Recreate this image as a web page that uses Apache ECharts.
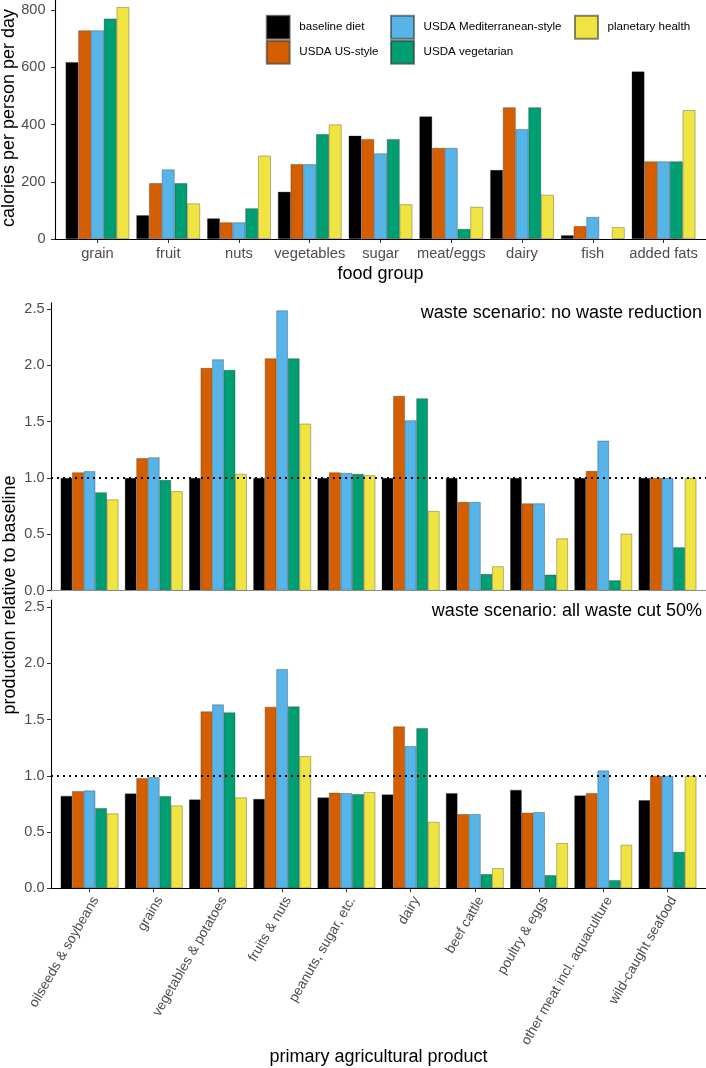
<!DOCTYPE html>
<html><head><meta charset="utf-8">
<script src="https://cdn.jsdelivr.net/npm/echarts@6/dist/echarts.min.js"></script>
<style>html,body{margin:0;padding:0;background:#fff}#c{width:706px;height:1068px}</style>
</head><body><div id="c"></div><script>
// ---------- data ----------
const dietNames = ['baseline diet', 'USDA US-style', 'USDA Mediterranean-style', 'USDA vegetarian', 'planetary health'];
const dietColors = ['#000000', '#D55E00', '#56B4E9', '#009E73', '#F0E442'];

const foodGroups = ['grain', 'fruit', 'nuts', 'vegetables', 'sugar', 'meat/eggs', 'dairy', 'fish', 'added fats'];
const calBaseline = [618, 83, 72, 165, 361, 428, 241, 13, 585];
const calUS       = [729, 195, 58, 261, 349, 318, 460, 45, 271];
const calMed      = [729, 243, 58, 261, 299, 318, 384, 77, 271];
const calVeg      = [770, 195, 107, 366, 349, 35, 460, null, 271];
const calPlanet   = [810, 124, 291, 400, 121, 112, 154, 41, 450];
const calTicks = [0, 200, 400, 600, 800];

const products = ['oilseeds & soybeans', 'grains', 'vegetables & potatoes', 'fruits & nuts', 'peanuts, sugar, etc.',
  'dairy', 'beef cattle', 'poultry & eggs', 'other meat incl. aquaculture', 'wild-caught seafood'];
const noRedBaseline = [1, 1, 1, 1, 1, 1, 1, 1, 1, 1];
const noRedUS       = [1.05, 1.175, 1.976, 2.062, 1.05, 1.728, 0.787, 0.775, 1.062, 1.0];
const noRedMed      = [1.06, 1.183, 2.053, 2.488, 1.045, 1.512, 0.787, 0.775, 1.331, 1.0];
const noRedVeg      = [0.873, 0.982, 1.959, 2.062, 1.036, 1.707, 0.148, 0.142, 0.092, 0.385];
const noRedPlanet   = [0.81, 0.882, 1.036, 1.482, 1.024, 0.707, 0.216, 0.464, 0.506, 1.0];

const cutBaseline = [0.822, 0.843, 0.789, 0.795, 0.807, 0.834, 0.846, 0.875, 0.825, 0.783];
const cutUS       = [0.864, 0.979, 1.573, 1.614, 0.849, 1.439, 0.659, 0.671, 0.846, 1.0];
const cutMed      = [0.869, 0.988, 1.635, 1.95, 0.845, 1.264, 0.659, 0.677, 1.047, 1.0];
const cutVeg      = [0.712, 0.819, 1.564, 1.617, 0.837, 1.424, 0.125, 0.116, 0.071, 0.323];
const cutPlanet   = [0.665, 0.736, 0.807, 1.175, 0.855, 0.59, 0.178, 0.401, 0.386, 1.0];
const relTicks = [0, 0.5, 1, 1.5, 2, 2.5];
const refValue = 1;

const panelLabels = ['waste scenario: no waste reduction', 'waste scenario: all waste cut 50%'];

// ---------- layout ----------
const FONT = '"Liberation Sans", Arial, sans-serif';
const W = 706;
const panels = [
  { axisX: 55, top: 0, height: 239, max: 835, cats: foodGroups, series: [calBaseline, calUS, calMed, calVeg, calPlanet], ticks: calTicks, fmt: v => String(v), xLine: '#000', ref: false, xlab: 'top', margin: 9.5 },
  { axisX: 51, top: 302.7, height: 288, max: 2.556, cats: products, series: [noRedBaseline, noRedUS, noRedMed, noRedVeg, noRedPlanet], ticks: relTicks, fmt: v => v.toFixed(1), xLine: '#8c8c8c', ref: true, xlab: 'none', margin: 6.5 },
  { axisX: 51, top: 600, height: 288.2, max: 2.565, cats: products, series: [cutBaseline, cutUS, cutMed, cutVeg, cutPlanet], ticks: relTicks, fmt: v => v.toFixed(1), xLine: '#000', ref: true, xlab: 'rot', margin: 6.5 }
];

const grid = [], xAxis = [], yAxis = [], series = [];
panels.forEach((p, i) => {
  const n = p.cats.length;
  const band = (W - p.axisX) / (n + 0.2);
  grid.push({ left: p.axisX, width: W - p.axisX, top: p.top, height: p.height, outerBoundsMode: 'none' });
  grid.push({ left: p.axisX + 0.1 * band, width: n * band, top: p.top, height: p.height, outerBoundsMode: 'none' });
  // frame axes
  xAxis.push({ gridIndex: 2 * i, type: 'value', min: 0, max: 1, z: 6,
    axisLine: { show: true, lineStyle: { color: p.xLine, width: 1.1 } },
    axisTick: { show: false }, axisLabel: { show: false }, splitLine: { show: false } });
  yAxis.push({ gridIndex: 2 * i, type: 'value', min: 0, max: p.max, z: 6,
    axisLine: { show: true, lineStyle: { color: '#000', width: 1.1 } },
    axisTick: { show: true, length: 4, customValues: p.ticks, lineStyle: { color: '#333', width: 1 } },
    axisLabel: { show: true, customValues: p.ticks, formatter: p.fmt, color: '#4d4d4d', fontSize: 14.5, fontFamily: FONT, margin: p.margin },
    splitLine: { show: false } });
  // bar axes
  const xa = { gridIndex: 2 * i + 1, type: 'category', data: p.cats,
    axisLine: { show: false },
    axisTick: { show: p.xlab !== 'none', alignWithLabel: true, length: 4, lineStyle: { color: '#333', width: 1 } },
    splitLine: { show: false } };
  if (p.xlab === 'top') {
    xa.axisLabel = { show: true, interval: 0, color: '#4d4d4d', fontSize: 14.7, fontFamily: FONT, margin: 7 };
  } else if (p.xlab === 'rot') {
    xa.axisLabel = { show: true, interval: 0, rotate: 60, align: 'right', verticalAlign: 'top', color: '#4d4d4d', fontSize: 13.7, fontFamily: FONT, margin: 6 };
  } else {
    xa.axisLabel = { show: false };
  }
  xAxis.push(xa);
  yAxis.push({ gridIndex: 2 * i + 1, type: 'value', min: 0, max: p.max, show: false, splitLine: { show: false } });
  p.series.forEach((vals, k) => {
    series.push({ type: 'bar', name: dietNames[k], xAxisIndex: 2 * i + 1, yAxisIndex: 2 * i + 1, data: vals,
      barGap: '0%', barCategoryGap: '10%',
      itemStyle: { color: dietColors[k], borderColor: 'rgba(40,40,40,0.55)', borderWidth: 0.6 } });
  });
  if (p.ref) {
    series.push({ type: 'line', name: 'ref' + i, xAxisIndex: 2 * i, yAxisIndex: 2 * i, data: [], z: 10,
      markLine: { silent: true, symbol: 'none', label: { show: false },
        lineStyle: { color: '#000', type: [2, 4], width: 2 }, data: [{ yAxis: refValue }] } });
  }
});

const legendBase = { orient: 'vertical', itemWidth: 23, itemHeight: 23, itemGap: 0, padding: 0, icon: 'rect', selectedMode: false,
  textStyle: { fontSize: 11.6, color: '#000', fontFamily: FONT, padding: [0, 0, 0, 4.6] } };
const legend = [
  Object.assign({}, legendBase, { data: [dietNames[0], dietNames[1]], left: 265.7, top: 14.7 }),
  Object.assign({}, legendBase, { data: [dietNames[2], dietNames[3]], left: 390, top: 14.7 }),
  Object.assign({}, legendBase, { data: [dietNames[4]], left: 574, top: 14.7 })
];

function txt(text, x, y, opts) {
  return Object.assign({ type: 'text', x: x, y: y, z: 20,
    style: { text: text, fontSize: 18, fontFamily: FONT, fill: '#000',
      align: 'center', verticalAlign: 'middle', textAlign: 'center', textVerticalAlign: 'middle' } }, opts || {});
}
const graphic = [
  txt('calories per person per day', 9, 118, { rotation: Math.PI / 2 }),
  txt('production relative to baseline', 9.7, 595, { rotation: Math.PI / 2 }),
  txt('food group', 380.5, 274),
  txt('primary agricultural product', 378.5, 1057),
  { type: 'text', x: 702, y: 313.3, z: 20, style: { text: panelLabels[0], fontSize: 18, fontFamily: FONT, fill: '#000', align: 'right', verticalAlign: 'middle', textAlign: 'right', textVerticalAlign: 'middle' } },
  { type: 'text', x: 702, y: 610.7, z: 20, style: { text: panelLabels[1], fontSize: 18, fontFamily: FONT, fill: '#000', align: 'right', verticalAlign: 'middle', textAlign: 'right', textVerticalAlign: 'middle' } }
];

const chart = echarts.init(document.getElementById('c'), null, { renderer: 'canvas' });
chart.setOption({ animation: false, backgroundColor: '#fff', grid, xAxis, yAxis, series, legend, graphic,
  textStyle: { fontFamily: FONT } });
</script></body></html>
